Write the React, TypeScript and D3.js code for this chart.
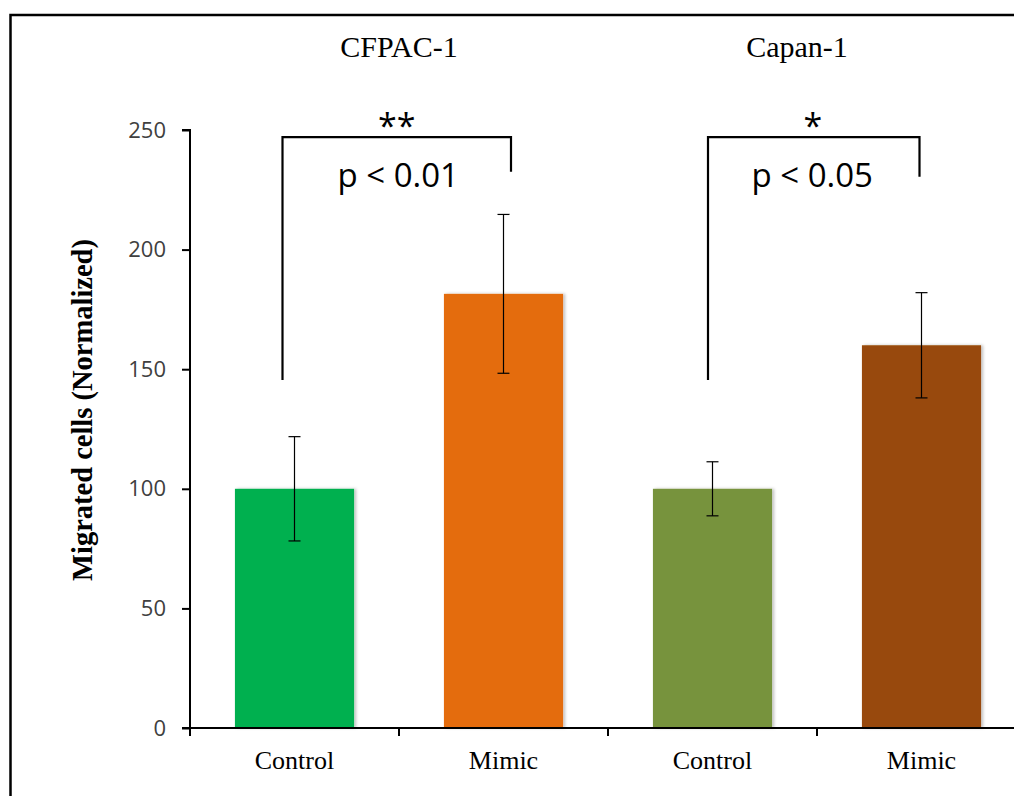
import { useEffect, useRef } from 'react';
import { select, scaleBand, scaleLinear, axisLeft } from 'd3';

// data
const cellLines = ['CFPAC-1', 'Capan-1'];
const conditions = ['Control', 'Mimic'];
const means = [100, 181.5, 100, 160];
const errors = [21.8, 33.2, 11.3, 22];
const barColors = ['#00B050', '#E46C0A', '#77933C', '#984807'];
const yTicks = [0, 50, 100, 150, 200, 250];
const stars = ['**', '*'];
const pLabels = ['p < 0.01', 'p < 0.05'];
// bracket levels in data units: [left foot, top, right foot]
const bracketLevels = [
  [145.5, 247, 232.5],
  [145.5, 247, 230.5],
];

const width = 1014;
const height = 796;
const margin = { top: 130, left: 190, bottom: 68 };

const App = () => {
  const ref = useRef<SVGSVGElement>(null);

  useEffect(() => {
    const svg = select(ref.current);
    svg.selectAll('*').remove();

    const keys = cellLines.flatMap((c) => conditions.map((k) => `${c}|${k}`));

    const xScale = scaleBand()
      .domain(keys)
      .range([margin.left, margin.left + 209 * keys.length])
      .padding(0);

    const yScale = scaleLinear()
      .domain([0, 250])
      .range([height - margin.bottom, margin.top]);

    const barW = xScale.bandwidth() * 0.57;
    const cx = (k: string) => (xScale(k) as number) + xScale.bandwidth() / 2;

    const defs = svg.append('defs');
    defs
      .append('filter')
      .attr('id', 'shadow')
      .attr('x', '-10%')
      .attr('width', '130%')
      .append('feDropShadow')
      .attr('dx', 2)
      .attr('dy', 0)
      .attr('stdDeviation', 1.5)
      .attr('flood-color', '#000')
      .attr('flood-opacity', 0.25);

    // outer frame (top + left only are visible)
    svg
      .append('path')
      .attr('d', `M10.5,${height} V15 H${width}`)
      .attr('fill', 'none')
      .attr('stroke', '#000')
      .attr('stroke-width', 2.5);

    // bars
    svg
      .append('g')
      .selectAll('rect')
      .data(keys)
      .join('rect')
      .attr('x', (k) => cx(k) - barW / 2)
      .attr('y', (_, i) => yScale(means[i]))
      .attr('width', barW)
      .attr('height', (_, i) => yScale(0) - yScale(means[i]))
      .attr('fill', (_, i) => barColors[i])
      .attr('filter', 'url(#shadow)');

    // error bars
    const eb = svg.append('g').attr('stroke', '#000').attr('stroke-width', 1.2);
    keys.forEach((k, i) => {
      const x = cx(k);
      const yTop = yScale(means[i] + errors[i]);
      const yBot = yScale(means[i] - errors[i]);
      eb.append('line').attr('x1', x).attr('x2', x).attr('y1', yTop).attr('y2', yBot);
      eb.append('line').attr('x1', x - 6).attr('x2', x + 6).attr('y1', yTop).attr('y2', yTop);
      eb.append('line').attr('x1', x - 6).attr('x2', x + 6).attr('y1', yBot).attr('y2', yBot);
    });

    // y axis
    const yAxis = axisLeft(yScale).tickValues(yTicks).tickSize(8).tickPadding(16);
    const gy = svg
      .append('g')
      .attr('transform', `translate(${margin.left},0)`)
      .call(yAxis as any);
    gy.select('.domain').attr('stroke-width', 2).attr('d', `M-8,${yScale(250)}H0V${yScale(0)}`);
    gy.selectAll('.tick line').attr('stroke-width', 2);
    gy.selectAll('.tick text')
      .attr('font-family', '"Open Sans", sans-serif')
      .attr('font-size', 22)
      .attr('fill', '#404040');

    // x axis
    const y0 = yScale(0);
    const gx = svg.append('g').attr('stroke', '#000').attr('stroke-width', 2);
    gx.append('line').attr('x1', margin.left - 8).attr('x2', width).attr('y1', y0).attr('y2', y0);
    keys.forEach((k) => {
      const x = xScale(k) as number;
      gx.append('line').attr('x1', x).attr('x2', x).attr('y1', y0).attr('y2', y0 + 8);
    });

    svg
      .append('g')
      .selectAll('text')
      .data(keys)
      .join('text')
      .attr('x', (k) => cx(k))
      .attr('y', y0 + 41)
      .attr('text-anchor', 'middle')
      .attr('font-family', '"Liberation Serif", "Times New Roman", serif')
      .attr('font-size', 26)
      .attr('fill', '#000')
      .text((k) => k.split('|')[1]);

    // cell line titles
    const titleOffsets = [0, -20];
    svg
      .append('g')
      .selectAll('text')
      .data(cellLines)
      .join('text')
      .attr('x', (c, i) => (xScale(`${c}|Mimic`) as number) + titleOffsets[i])
      .attr('y', 57)
      .attr('text-anchor', 'middle')
      .attr('font-family', '"Liberation Serif", "Times New Roman", serif')
      .attr('font-size', 30)
      .attr('fill', '#000')
      .text((c) => c);

    // significance brackets
    const bracketDx = [
      [-12, 7.5],
      [-4.5, -2],
    ];
    cellLines.forEach((c, i) => {
      const xl = cx(`${c}|Control`) + bracketDx[i][0];
      const xr = cx(`${c}|Mimic`) + bracketDx[i][1];
      const [lf, top, rf] = bracketLevels[i].map((v) => yScale(v));
      svg
        .append('path')
        .attr('d', `M${xl},${lf} V${top} H${xr} V${rf}`)
        .attr('fill', 'none')
        .attr('stroke', '#000')
        .attr('stroke-width', 2.2);
      const mid = (xl + xr) / 2;
      svg
        .append('text')
        .attr('x', mid + (i === 0 ? 0 : -1))
        .attr('y', top + 1)
        .attr('text-anchor', 'middle')
        .attr('font-family', '"Open Sans", sans-serif')
        .attr('font-size', 34)
        .attr('fill', '#000')
        .text(stars[i]);
      svg
        .append('text')
        .attr('x', mid + (i === 0 ? 1.5 : -1.5))
        .attr('y', top + 50)
        .attr('text-anchor', 'middle')
        .attr('font-family', '"Open Sans", sans-serif')
        .attr('font-size', 33)
        .attr('fill', '#000')
        .text(pLabels[i]);
    });

    // y axis title
    svg
      .append('text')
      .attr('transform', `translate(92,${410}) rotate(-90)`)
      .attr('text-anchor', 'middle')
      .attr('font-family', '"Liberation Serif", "Times New Roman", serif')
      .attr('font-weight', 'bold')
      .attr('font-size', 28.5)
      .attr('fill', '#000')
      .text('Migrated cells (Normalized)');
  }, []);

  return (
    <div style={{ position: 'absolute', left: 0, top: 0, background: '#fff' }}>
      <svg ref={ref} width={width} height={height} style={{ display: 'block' }} />
    </div>
  );
};

export default App;
